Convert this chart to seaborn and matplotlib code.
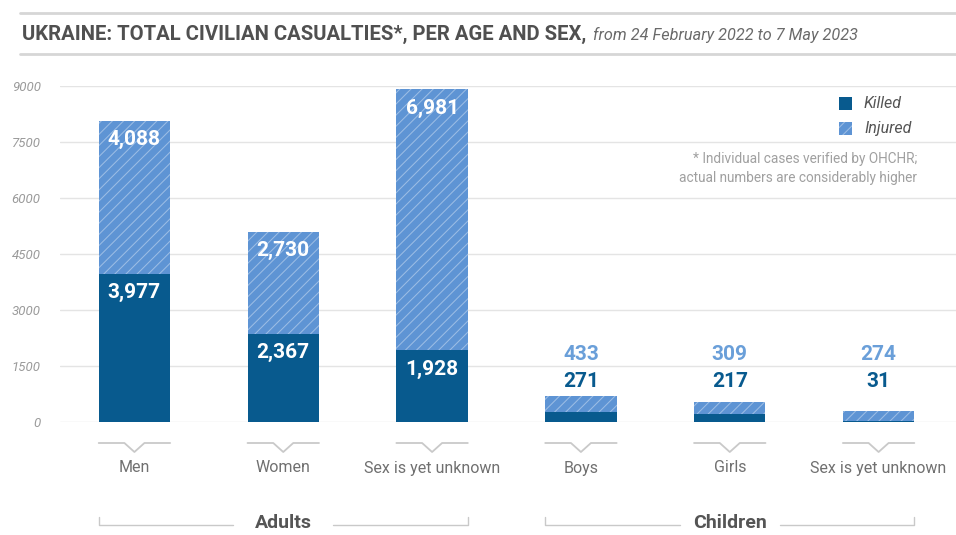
import numpy as np
import pandas as pd
import matplotlib
matplotlib.use("Agg")
import matplotlib.pyplot as plt
import seaborn as sns
from matplotlib import font_manager as fm
from matplotlib.transforms import blended_transform_factory
from matplotlib.patches import Rectangle
from matplotlib.lines import Line2D

# ---------------- data ----------------
categories = ["Men", "Women", "Sex is yet unknown", "Boys", "Girls", "Sex is yet unknown"]
groups = ["Adults", "Adults", "Adults", "Children", "Children", "Children"]
killed = [3977, 2367, 1928, 271, 217, 31]
injured = [4088, 2730, 6981, 433, 309, 274]
yticks = [0, 1500, 3000, 4500, 6000, 7500, 9000]
series_names = ["Killed", "Injured"]
title_main = "UKRAINE: TOTAL CIVILIAN CASUALTIES*, PER AGE AND SEX,"
title_sub = "from 24 February 2022 to 7 May 2023"
note_lines = ["* Individual cases verified by OHCHR;", "actual numbers are considerably higher"]

KIL = "#085A8E"
INJ = "#5E94D4"
INJ_TXT = "#6A9FD9"
GRID = "#e4e4e4"
DECO = "#c9c9c9"
HATCH_EC = (1, 1, 1, 0.38)

sns.set_theme(style="white")
names = {f.name for f in fm.fontManager.ttflist}
COND = "Liberation Sans Narrow" if "Liberation Sans Narrow" in names else "Roboto"
plt.rcParams["font.family"] = ["Roboto", "DejaVu Sans"]
plt.rcParams["hatch.linewidth"] = 0.75

W, H = 956, 535
fig = plt.figure(figsize=(W / 100, H / 100), dpi=100)
ax = fig.add_axes([60 / W, 1 - 422 / H, (W - 60) / W, (422 - 86) / H])

df = pd.DataFrame({
    "pos": list(range(len(categories))),
    "cat": categories,
    "group": groups,
    "killed": killed,
    "injured": injured,
})
df["total"] = df["killed"] + df["injured"]

BW = 0.48
sns.barplot(data=df, x="pos", y="total", color=INJ, saturation=1, width=BW,
            ax=ax, linewidth=0, errorbar=None)
for p in ax.patches:
    p.set_hatch("///")
    p.set_edgecolor(HATCH_EC)
    p.set_linewidth(0)
sns.barplot(data=df, x="pos", y="killed", color=KIL, saturation=1, width=BW,
            ax=ax, linewidth=0, errorbar=None)

ax.set_xlim(-0.5, 5.52)
ax.set_ylim(0, 9000)
ax.set_yticks(yticks)
ax.set_yticklabels([str(v) for v in yticks], fontstyle="italic", color="#9a9a9a", fontsize=9.5)
ax.tick_params(axis="y", length=0, pad=14)
ax.set_xticks([])
ax.set_xlabel("")
ax.set_ylabel("")
ax.yaxis.grid(True, color=GRID, lw=1)
ax.set_axisbelow(True)
for s in ax.spines.values():
    s.set_visible(False)

# value labels
child_max = df.loc[df["group"] == "Children", "total"].max()
for i, r in df.iterrows():
    if r["group"] == "Adults":
        ax.annotate(f"{r['killed']:,}", xy=(i, r["killed"]), xytext=(0, -19),
                    textcoords="offset pixels", ha="center", va="center",
                    color="white", weight="bold", fontsize=15)
        ax.annotate(f"{r['injured']:,}", xy=(i, r["total"]), xytext=(0, -19),
                    textcoords="offset pixels", ha="center", va="center",
                    color="white", weight="bold", fontsize=15)
    else:
        ax.annotate(f"{r['killed']:,}", xy=(i, child_max), xytext=(0, 14),
                    textcoords="offset pixels", ha="center", va="center",
                    color=KIL, weight="bold", fontsize=15)
        ax.annotate(f"{r['injured']:,}", xy=(i, child_max), xytext=(0, 41),
                    textcoords="offset pixels", ha="center", va="center",
                    color=INJ_TXT, weight="bold", fontsize=15)

# category labels with V notches
tr = blended_transform_factory(ax.transData, fig.transFigure)
fy = lambda px: 1 - px / H
hw = 10 / 148.8
for i, c in enumerate(categories):
    ax.plot([i - 0.24, i - hw, i, i + hw, i + 0.24],
            [fy(443), fy(443), fy(452), fy(443), fy(443)],
            transform=tr, clip_on=False, color=DECO, lw=1.3)
    ax.text(i, fy(468), c, transform=tr, ha="center", va="center",
            color="#707070", fontsize=11.5)

# group brackets
gap = 50 / 148.8
for g in dict.fromkeys(groups):
    idx = [i for i, gg in enumerate(groups) if gg == g]
    a, b = idx[0] - 0.24, idx[-1] + 0.24
    c = (idx[0] + idx[-1]) / 2
    ax.plot([a, a, c - gap], [fy(517), fy(525), fy(525)], transform=tr,
            clip_on=False, color=DECO, lw=1)
    ax.plot([c + gap, b, b], [fy(525), fy(525), fy(517)], transform=tr,
            clip_on=False, color=DECO, lw=1)
    ax.text(c, fy(523), g, transform=tr, ha="center", va="center",
            color="#555555", fontsize=14, weight="bold", family=[COND, "DejaVu Sans"])

# legend
for name, col, hatch, yc in zip(series_names, [KIL, INJ], [None, "///"], [103, 129]):
    r = Rectangle((839 / W, fy(yc + 6.5)), 13 / W, 13 / H, transform=fig.transFigure,
                  facecolor=col, edgecolor=HATCH_EC, lw=0, hatch=hatch)
    fig.add_artist(r)
    fig.text(864 / W, fy(yc), name, ha="left", va="center", fontstyle="italic",
             color="#555555", fontsize=11.5)

for t, yc in zip(note_lines, [159, 178]):
    fig.text(917 / W, fy(yc), t, ha="right", va="center", color="#a0a0a0", fontsize=9.8)

# title
fig.add_artist(Line2D([20 / W, 1], [fy(13), fy(13)], color="#d6d6d6", lw=2))
fig.add_artist(Line2D([20 / W, 1], [fy(54), fy(54)], color="#d6d6d6", lw=2))
t1 = fig.text(22 / W, fy(34), title_main, ha="left", va="center", weight="bold",
              color="#505050", fontsize=14, family=[COND, "DejaVu Sans"])
rend = fig.canvas.get_renderer()
bb = t1.get_window_extent(renderer=rend)
t1.set_fontsize(14 * 566 / bb.width)
bb = t1.get_window_extent(renderer=rend)
t2 = fig.text((bb.x1 + 7) / W, fy(35), title_sub, ha="left", va="center",
              fontstyle="italic", color="#6a6a6a", fontsize=11, family=[COND, "DejaVu Sans"])
bb2 = t2.get_window_extent(renderer=rend)
t2.set_fontsize(11 * 263 / bb2.width)

fig.savefig("out.png", dpi=100, facecolor="white")
